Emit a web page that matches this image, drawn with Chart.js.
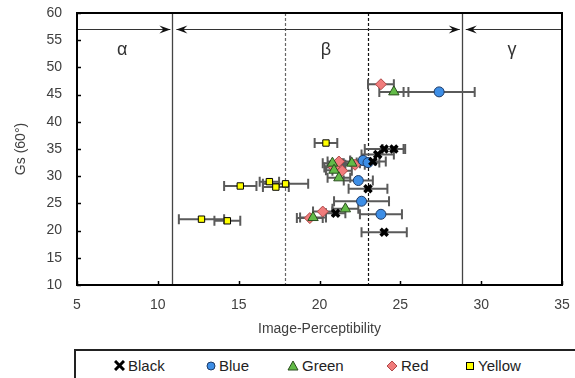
<!DOCTYPE html>
<html>
<head>
<meta charset="utf-8">
<script src="https://cdn.jsdelivr.net/npm/chart.js@4"></script>
<style>
  body { margin: 0; background: #fff; font-family: "Liberation Sans", Arial, sans-serif; }
  #wrap { position: relative; width: 575px; height: 378px; overflow: hidden; }
  #legend { position: absolute; left: 74px; top: 349px; width: 560px; height: 40px;
            border: 2px solid #222; box-sizing: border-box; font-size: 15px; color: #222; }
  #legend span.item { position: absolute; top: 6px; display: flex; align-items: center; }
  #legend svg { margin-right: 3px; }
</style>
</head>
<body>
<div id="wrap">
  <canvas id="chart" width="575" height="345"></canvas>
  <div id="legend"></div>
</div>
<script>
// x = Image-Perceptibility, y = Gs (60°), xErr = horizontal error (±)
const blackX = [24.0, 24.6, 23.6, 23.3, 23.0, 21.0, 24.0];
const blackY = [35.0, 35.0, 34.0, 32.7, 27.7, 23.2, 19.7];
const blackErr = [1.2, 0.7, 1.0, 0.8, 1.2, 0.6, 1.4];

const blueX = [27.4, 22.7, 23.0, 22.4, 22.6, 23.8];
const blueY = [45.5, 32.9, 32.5, 29.2, 25.4, 23.0];
const blueErr = [2.2, 0.8, 0.7, 0.9, 1.7, 1.3];

const greenX = [24.6, 20.8, 22.0, 20.9, 21.2, 21.6, 19.6];
const greenY = [45.5, 32.4, 32.4, 31.1, 29.7, 24.0, 22.4];
const greenErr = [0.9, 0.6, 0.5, 0.5, 0.7, 0.8, 0.8];

const redX = [23.8, 21.2, 22.2, 21.4, 20.9, 20.2, 19.4];
const redY = [46.9, 32.7, 32.1, 31.0, 31.6, 23.5, 22.3];
const redErr = [0.8, 0.7, 0.6, 0.6, 0.6, 0.6, 0.8];

const yellowX = [20.4, 15.1, 16.9, 17.3, 17.9, 12.7, 14.3];
const yellowY = [36.1, 28.2, 29.0, 28.0, 28.6, 22.1, 21.8];
const yellowErr = [0.7, 1.0, 0.6, 0.8, 1.4, 1.4, 0.8];

// region boundaries (solid) and inner dashed lines
const regionBounds = [10.9, 28.8];
const dashedLines = [17.85, 23.0];
const regionNames = ['α', 'β', 'γ'];
const regionLabelX = [7.8, 20.4, 31.9];
const arrowY = 57;
const regionLabelY = 53.2;

const toPoints = (xs, ys, es) => xs.map((x, i) => ({ x: x, y: ys[i], xErr: es[i] }));

const series = [
  { label: 'Black', data: toPoints(blackX, blackY, blackErr), pointStyle: 'crossRot', radius: 5, bg: '#000', border: '#000', bw: 3.5 },
  { label: 'Blue', data: toPoints(blueX, blueY, blueErr), pointStyle: 'circle', radius: 5, bg: '#3d8ee6', border: '#1f3b66', bw: 1 },
  { label: 'Green', data: toPoints(greenX, greenY, greenErr), pointStyle: 'triangle', radius: 6, bg: '#62bb47', border: '#2a4d1e', bw: 1 },
  { label: 'Red', data: toPoints(redX, redY, redErr), pointStyle: 'rectRot', radius: 5.5, bg: '#f07c7c', border: '#b04848', bw: 1 },
  { label: 'Yellow', data: toPoints(yellowX, yellowY, yellowErr), pointStyle: 'rect', radius: 4.5, bg: '#ffff00', border: '#000', bw: 1 }
];

function arrowHead(ctx, x, y, dir) {
  ctx.beginPath();
  ctx.moveTo(x, y);
  ctx.lineTo(x - dir * 11, y - 4);
  ctx.lineTo(x - dir * 7, y);
  ctx.lineTo(x - dir * 11, y + 4);
  ctx.closePath();
  ctx.fill();
}

const decorPlugin = {
  id: 'decor',
  beforeDatasetsDraw(chart) {
    const ctx = chart.ctx, xs = chart.scales.x, ys = chart.scales.y, a = chart.chartArea;
    ctx.save();
    // vertical region lines
    ctx.strokeStyle = '#444';
    ctx.lineWidth = 1.3;
    regionBounds.forEach(v => {
      const px = Math.round(xs.getPixelForValue(v)) + 0.5;
      ctx.beginPath(); ctx.moveTo(px, a.top); ctx.lineTo(px, a.bottom); ctx.stroke();
    });
    ctx.setLineDash([3, 2]);
    ctx.lineWidth = 1.2;
    dashedLines.forEach((v, i) => {
      ctx.strokeStyle = i === 0 ? '#666' : '#111';
      const px = Math.round(xs.getPixelForValue(v)) + 0.5;
      ctx.beginPath(); ctx.moveTo(px, a.top); ctx.lineTo(px, a.bottom); ctx.stroke();
    });
    ctx.setLineDash([]);

    // arrows
    const ay = Math.round(ys.getPixelForValue(arrowY)) + 0.5;
    const b1 = xs.getPixelForValue(regionBounds[0]);
    const b2 = xs.getPixelForValue(regionBounds[1]);
    const segs = [[a.left, b1 - 2, false, true], [b1 + 4, b2 - 2, true, true], [b2 + 4, a.right, true, false]];
    ctx.strokeStyle = '#333';
    ctx.fillStyle = '#111';
    ctx.lineWidth = 1;
    segs.forEach(s => {
      ctx.beginPath(); ctx.moveTo(s[0], ay); ctx.lineTo(s[1], ay); ctx.stroke();
      if (s[2]) arrowHead(ctx, s[0], ay, -1);
      if (s[3]) arrowHead(ctx, s[1], ay, 1);
    });

    // region labels
    ctx.font = '18px "Liberation Sans", Arial, sans-serif';
    ctx.fillStyle = '#333';
    ctx.textAlign = 'center';
    ctx.textBaseline = 'middle';
    regionNames.forEach((n, i) => {
      ctx.fillText(n, xs.getPixelForValue(regionLabelX[i]), ys.getPixelForValue(regionLabelY));
    });

    // horizontal error bars
    ctx.strokeStyle = '#5a5a5a';
    ctx.lineWidth = 2;
    chart.data.datasets.forEach(ds => {
      ds.data.forEach(p => {
        const x0 = xs.getPixelForValue(p.x - p.xErr);
        const x1 = xs.getPixelForValue(p.x + p.xErr);
        const py = ys.getPixelForValue(p.y);
        ctx.beginPath();
        ctx.moveTo(x0, py); ctx.lineTo(x1, py);
        ctx.moveTo(x0, py - 5); ctx.lineTo(x0, py + 5);
        ctx.moveTo(x1, py - 5); ctx.lineTo(x1, py + 5);
        ctx.stroke();
      });
    });
    ctx.restore();
  },
  afterDraw(chart) {
    const ctx = chart.ctx, xs = chart.scales.x, ys = chart.scales.y, a = chart.chartArea;
    ctx.save();
    ctx.strokeStyle = '#000';
    ctx.lineWidth = 2;
    ctx.strokeRect(a.left, a.top, a.right - a.left, a.bottom - a.top);
    // inward tick marks
    ctx.lineWidth = 1.5;
    xs.ticks.forEach(t => {
      const px = Math.round(xs.getPixelForValue(t.value)) + 0.5;
      ctx.beginPath(); ctx.moveTo(px, a.bottom); ctx.lineTo(px, a.bottom - 4); ctx.stroke();
    });
    ys.ticks.forEach(t => {
      const py = Math.round(ys.getPixelForValue(t.value)) + 0.5;
      ctx.beginPath(); ctx.moveTo(a.left, py); ctx.lineTo(a.left + 4, py); ctx.stroke();
    });
    ctx.restore();
  }
};

const tickFont = { family: '"Liberation Sans", Arial, sans-serif', size: 14 };

new Chart(document.getElementById('chart'), {
  type: 'scatter',
  data: {
    datasets: series.map(s => ({
      label: s.label,
      data: s.data,
      pointStyle: s.pointStyle,
      pointRadius: s.radius,
      pointHoverRadius: s.radius,
      backgroundColor: s.bg,
      borderColor: s.border,
      borderWidth: s.bw
    }))
  },
  options: {
    responsive: false,
    animation: false,
    layout: { padding: { top: 13, right: 13, left: 0, bottom: 0 } },
    plugins: { legend: { display: false }, tooltip: { enabled: false } },
    scales: {
      x: {
        type: 'linear', min: 5, max: 35,
        ticks: { stepSize: 5, font: tickFont, color: '#404040', padding: 4 },
        grid: { display: false, drawTicks: true, tickLength: 8 },
        border: { display: false },
        title: { display: true, text: 'Image-Perceptibility', font: tickFont, color: '#404040', padding: { top: 0, bottom: 7 } },
        afterFit(scale) { scale.height = 60; }
      },
      y: {
        type: 'linear', min: 10, max: 60,
        ticks: { stepSize: 5, font: tickFont, color: '#404040', padding: 3 },
        grid: { display: false, drawTicks: true, tickLength: 12 },
        border: { display: false },
        title: { display: true, text: 'Gs (60°)', font: tickFont, color: '#404040', padding: { top: 13, bottom: 0 } },
        afterFit(scale) { scale.width = 77; }
      }
    }
  },
  plugins: [decorPlugin]
});

// legend
const legendPos = [38, 130, 211, 310, 389];
const legendIcons = {
  Black: '<svg width="11" height="11"><path d="M1,1 L10,10 M10,1 L1,10" stroke="#000" stroke-width="3"/></svg>',
  Blue: '<svg width="10" height="10"><circle cx="5" cy="5" r="4" fill="#3d8ee6" stroke="#1f3b66" stroke-width="1"/></svg>',
  Green: '<svg width="12" height="11"><path d="M6,1 L11,10 L1,10 Z" fill="#62bb47" stroke="#2a4d1e" stroke-width="1"/></svg>',
  Red: '<svg width="12" height="12"><path d="M6,1 L11,6 L6,11 L1,6 Z" fill="#f07c7c" stroke="#b04848" stroke-width="1"/></svg>',
  Yellow: '<svg width="10" height="10"><rect x="1.5" y="1.5" width="7" height="7" fill="#ffff00" stroke="#000" stroke-width="1"/></svg>'
};
const legendEl = document.getElementById('legend');
series.forEach((s, i) => {
  const it = document.createElement('span');
  it.className = 'item';
  it.style.left = legendPos[i] + 'px';
  it.innerHTML = legendIcons[s.label] + s.label;
  legendEl.appendChild(it);
});
</script>
</body>
</html>
